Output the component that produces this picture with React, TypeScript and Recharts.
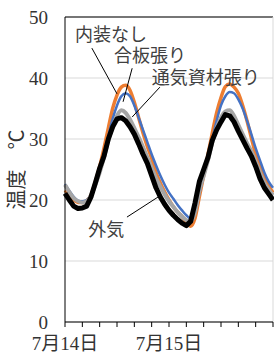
import React from 'react';
import { LineChart, Line, XAxis, YAxis, CartesianGrid, ReferenceLine, ReferenceDot } from 'recharts';

// hours from 7/14 0:00
const hours = [
  0, 1, 2, 3, 4, 5, 6, 7, 8, 9, 10, 11, 12, 13, 14, 15, 16, 17, 18, 19, 20, 21, 22, 23,
  24, 25, 26, 27, 28, 29, 30, 31, 32, 33, 34, 35, 36, 37, 38, 39, 40, 41, 42, 43, 44, 45, 46, 47, 48,
];

// 内装なし
const noLining = [
  21.6, 20.8, 20.0, 19.6, 19.6, 19.9, 20.8, 23.0, 25.5, 28.5, 31.8, 35.0, 37.2, 38.5, 38.8, 38.0, 36.0, 33.5, 31.0, 28.8, 26.8, 24.5, 22.8, 21.3,
  20.0, 18.9, 18.0, 17.3, 16.3, 15.7, 17.0, 20.5, 24.0, 27.5, 31.0, 34.3, 36.8, 38.6, 39.0, 38.5, 37.5, 35.5, 33.0, 30.2, 27.5, 25.4, 23.8, 22.3, 21.2,
];

// 合板張り
const plywood = [
  22.6, 21.5, 20.5, 19.9, 19.8, 20.0, 20.8, 22.5, 24.8, 27.5, 30.5, 33.3, 35.5, 37.0, 37.5, 37.0, 35.5, 33.5, 31.5, 29.5, 27.5, 25.7, 24.0, 22.5,
  21.2, 20.2, 19.2, 18.3, 17.5, 17.0, 18.0, 21.0, 24.0, 27.0, 30.0, 33.0, 35.5, 37.0, 37.7, 37.5, 36.5, 35.0, 33.0, 30.8, 28.5, 26.5, 24.5, 23.0, 22.0,
];

// 通気資材張り
const breathable = [
  22.5, 21.3, 20.3, 19.8, 19.6, 19.8, 20.7, 22.5, 24.5, 27.0, 29.8, 32.0, 33.8, 34.7, 34.3, 33.2, 31.8, 30.3, 28.7, 27.0, 25.3, 23.6, 22.2, 20.9,
  19.8, 18.9, 18.0, 17.3, 16.7, 16.5, 18.0, 21.5, 24.0, 26.5, 29.5, 31.8, 33.5, 34.5, 34.7, 33.8, 32.3, 30.8, 29.3, 28.0, 26.3, 24.5, 22.8, 21.7, 20.8,
];

// 外気
const outside = [
  21.1, 20.0, 19.0, 18.6, 18.7, 19.0, 20.5, 22.8, 25.2, 27.2, 30.0, 32.0, 33.3, 33.5, 33.0, 32.0, 30.8, 29.2, 27.5, 26.0, 24.0, 22.0, 20.5, 19.3,
  18.3, 17.5, 16.8, 16.2, 15.8, 16.5, 19.5, 23.0, 25.0, 27.0, 29.8, 31.5, 32.8, 34.0, 33.8, 32.8, 31.3, 29.9, 28.5, 27.2, 25.5, 23.5, 22.0, 21.0, 20.0,
];

const xTicks = [0, 4, 8, 12, 16, 20, 24, 28, 32, 36, 40, 44, 48];
const yTicks = [0, 10, 20, 30, 40, 50];
const dayLabels: Record<number, string> = { 0: '7月14日', 24: '7月15日' };

const data = hours.map((h, i) => ({
  h,
  noLining: noLining[i],
  plywood: plywood[i],
  breathable: breathable[i],
  outside: outside[i],
}));

const serif = "'Liberation Serif', 'DejaVu Serif', 'Noto Sans CJK JP', serif";
const gothic = "'Noto Sans CJK JP', sans-serif";

const noteStyle = { fill: '#404040', fontSize: 18, fontFamily: gothic };

const XTick = (props: any) => {
  const { x, y, payload } = props;
  const label = dayLabels[payload.value];
  if (!label) return null;
  return (
    <text x={x} y={y + 11.5} textAnchor="middle" fill="#333" fontSize={19} style={{ fontFamily: serif }}>
      {label}
    </text>
  );
};

const YTick = (props: any) => {
  const { x, y, payload } = props;
  return (
    <text x={x} y={y + 6.5} textAnchor="end" fill="#333" fontSize={19} style={{ fontFamily: serif }}>
      {payload.value}
    </text>
  );
};

const YLabel = (props: any) => {
  const vb = props.viewBox || {};
  const cx = 15;
  const cy = (vb.y ?? 17) + (vb.height ?? 305) / 2;
  return (
    <text
      x={cx}
      y={cy}
      transform={`rotate(-90 ${cx} ${cy})`}
      textAnchor="middle"
      dominantBaseline="central"
      fill="#333"
      fontSize={20}
      style={{ fontFamily: gothic }}
    >
      温度　℃
    </text>
  );
};

const App: React.FC = () => {
  return (
    <div style={{ position: 'absolute', left: 0, top: 0, width: 274, height: 355, overflow: 'hidden', background: '#fff' }}>
      <LineChart width={274} height={355} data={data} margin={{ top: 17, right: 1, bottom: 0, left: 0 }}>
        <CartesianGrid vertical={false} stroke="#d9d9d9" />
        <XAxis
          dataKey="h"
          type="number"
          domain={[0, 48]}
          ticks={xTicks}
          height={33}
          tickSize={5}
          tickMargin={11}
          stroke="#000"
          tick={<XTick />}
          interval={0}
        />
        <YAxis
          type="number"
          domain={[0, 50]}
          ticks={yTicks}
          width={65}
          tickLine={false}
          tickSize={0}
          tickMargin={17}
          stroke="#000"
          tick={<YTick />}
          label={<YLabel />}
        />
        <ReferenceLine y={50} stroke="#000" />
        <ReferenceLine x={48} stroke="#d9d9d9" />
        <Line type="monotone" dataKey="noLining" stroke="#ED7D31" strokeWidth={3.5} dot={false} isAnimationActive={false} />
        <Line type="monotone" dataKey="plywood" stroke="#4472C4" strokeWidth={2.5} dot={false} isAnimationActive={false} />
        <Line type="monotone" dataKey="breathable" stroke="#A5A5A5" strokeWidth={4} dot={false} isAnimationActive={false} />
        <Line type="linear" dataKey="outside" stroke="#000" strokeWidth={5} strokeLinejoin="round" dot={false} isAnimationActive={false} />
        <ReferenceLine segment={[{ x: 6.2, y: 44.9 }, { x: 12.0, y: 37.4 }]} stroke="#000" />
        <ReferenceLine segment={[{ x: 15.5, y: 41.6 }, { x: 13.4, y: 36.1 }]} stroke="#000" />
        <ReferenceLine segment={[{ x: 21.9, y: 38.5 }, { x: 15.5, y: 33.6 }]} stroke="#000" />
        <ReferenceLine segment={[{ x: 14.3, y: 17.2 }, { x: 21.5, y: 20.5 }]} stroke="#000" />
        <ReferenceDot x={10.6} y={47.1} r={0} stroke="none" label={{ value: '内装なし', position: 'center', ...noteStyle }} />
        <ReferenceDot x={19.6} y={43.6} r={0} stroke="none" label={{ value: '合板張り', position: 'center', ...noteStyle }} />
        <ReferenceDot x={32.5} y={40.0} r={0} stroke="none" label={{ value: '通気資材張り', position: 'center', ...noteStyle }} />
        <ReferenceDot x={9.5} y={15.1} r={0} stroke="none" label={{ value: '外気', position: 'center', ...noteStyle }} />
      </LineChart>
    </div>
  );
};

export default App;
